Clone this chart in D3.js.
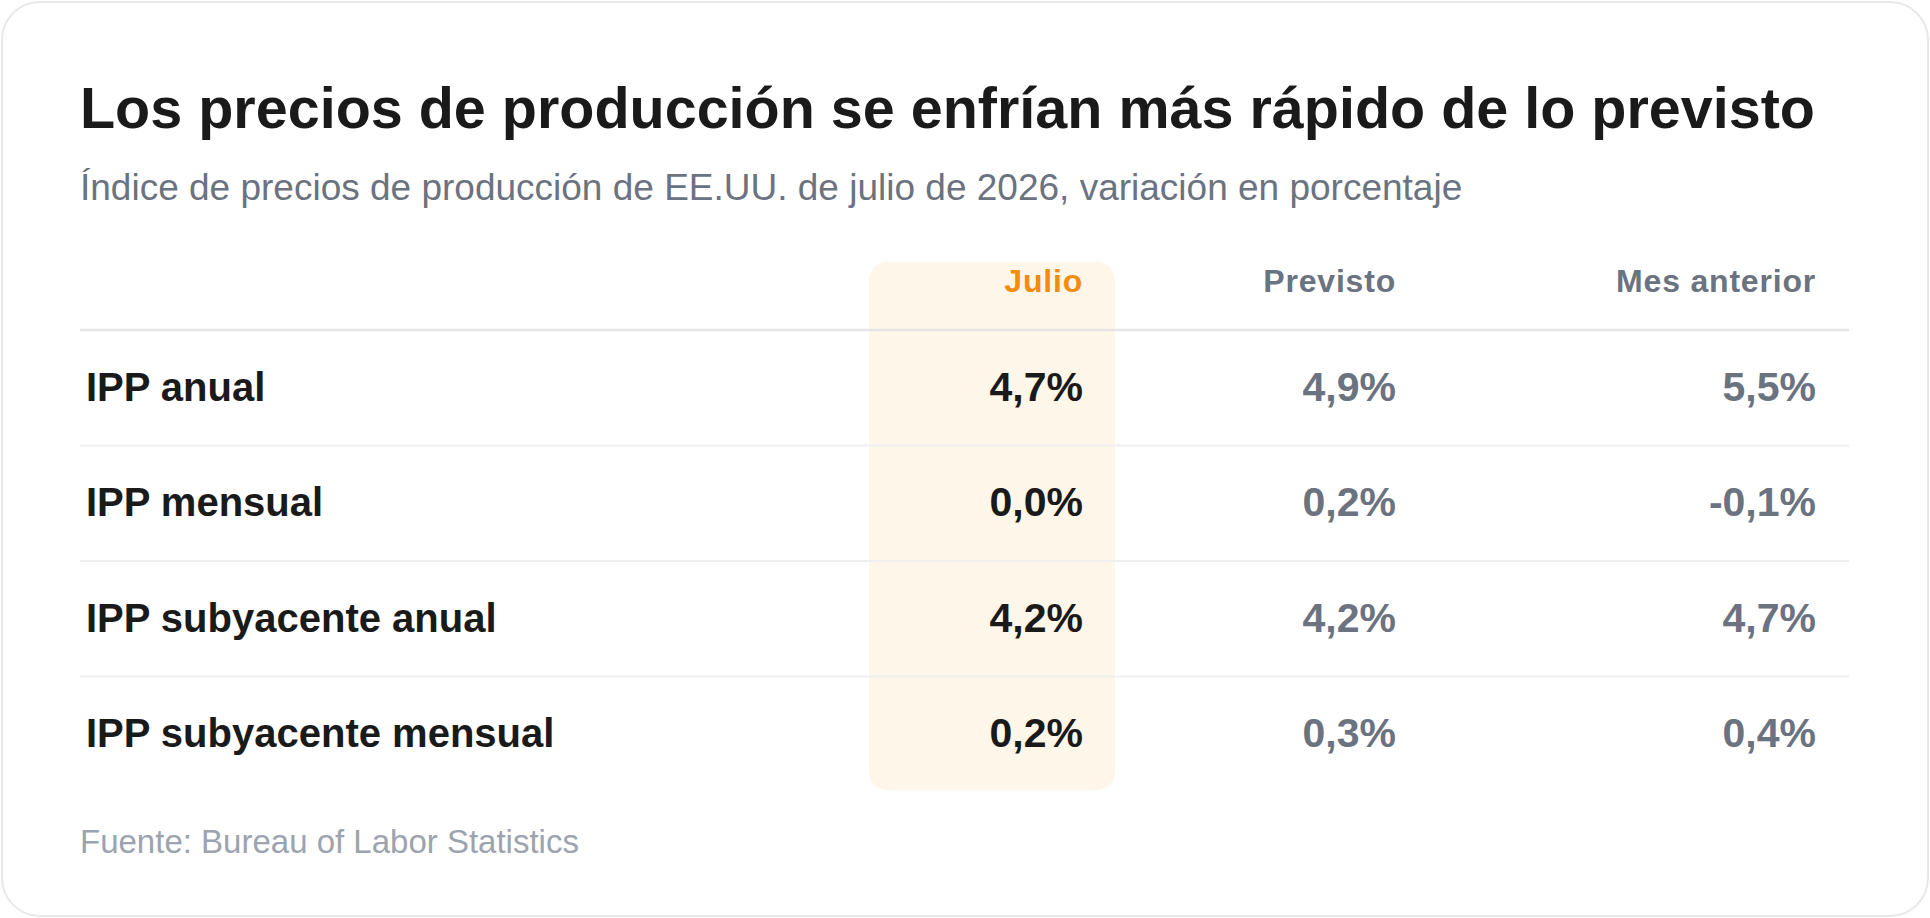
<!DOCTYPE html>
<html><head><meta charset="utf-8">
<script src="https://cdn.jsdelivr.net/npm/d3@7"></script>
<style>body{margin:0;background:#fff;font-family:"Liberation Sans",Arial,sans-serif}</style>
</head><body><svg id="c" width="1930" height="918"></svg>
<script>
const title="Los precios de producción se enfrían más rápido de lo previsto";
const subtitle="Índice de precios de producción de EE.UU. de julio de 2026, variación en porcentaje";
const source="Fuente: Bureau of Labor Statistics";
const columns=["Julio","Previsto","Mes anterior"];
const rows=["IPP anual","IPP mensual","IPP subyacente anual","IPP subyacente mensual"];
const julio=["4,7%","0,0%","4,2%","0,2%"];
const previsto=["4,9%","0,2%","4,2%","0,3%"];
const anterior=["5,5%","-0,1%","4,7%","0,4%"];
const svg=d3.select("#c");
svg.append("rect").attr("x",2).attr("y",2).attr("width",1926).attr("height",914).attr("rx",38)
 .attr("fill","#fff").attr("stroke","#e8e8e8").attr("stroke-width",2);
svg.append("text").attr("x",80).attr("y",128).attr("font-size",57.5).attr("font-weight",700).attr("fill","#1a1a1a").text(title);
svg.append("text").attr("x",80).attr("y",200).attr("font-size",37).attr("fill","#6b7280").text(subtitle);
const yb=d3.scaleBand().domain(rows).range([330,792]);
const colX=d3.scaleOrdinal().domain(columns).range([1083,1396,1816]);
svg.append("rect").attr("x",869).attr("y",262).attr("width",246).attr("height",528).attr("rx",18).attr("fill","#fef6e8");
columns.forEach((c,i)=>svg.append("text").attr("x",colX(c)).attr("y",292).attr("text-anchor","end")
 .attr("font-size",32).attr("font-weight",700).attr("letter-spacing",0.8).attr("fill",i==0?"#f28c0f":"#6b7280").text(c));
svg.append("line").attr("x1",80).attr("x2",1849).attr("y1",330).attr("y2",330).attr("stroke","#e5e5e5").attr("stroke-width",2.5);
rows.forEach((r,i)=>{
 const base=yb(r)+yb.bandwidth()/2+13;
 if(i>0) svg.append("line").attr("x1",80).attr("x2",1849).attr("y1",yb(r)).attr("y2",yb(r)).attr("stroke","#efefef").attr("stroke-width",2);
 svg.append("text").attr("x",86).attr("y",base).attr("font-size",40).attr("font-weight",700).attr("fill","#1a1a1a").text(r);
 [[julio,"#1a1a1a"],[previsto,"#6b7280"],[anterior,"#6b7280"]].forEach(([arr,col],j)=>
  svg.append("text").attr("x",colX(columns[j])).attr("y",base).attr("text-anchor","end").attr("font-size",41).attr("font-weight",700).attr("fill",col).text(arr[i]));
});
svg.append("text").attr("x",80).attr("y",853).attr("font-size",33).attr("fill","#9ca3af").text(source);
</script></body></html>
